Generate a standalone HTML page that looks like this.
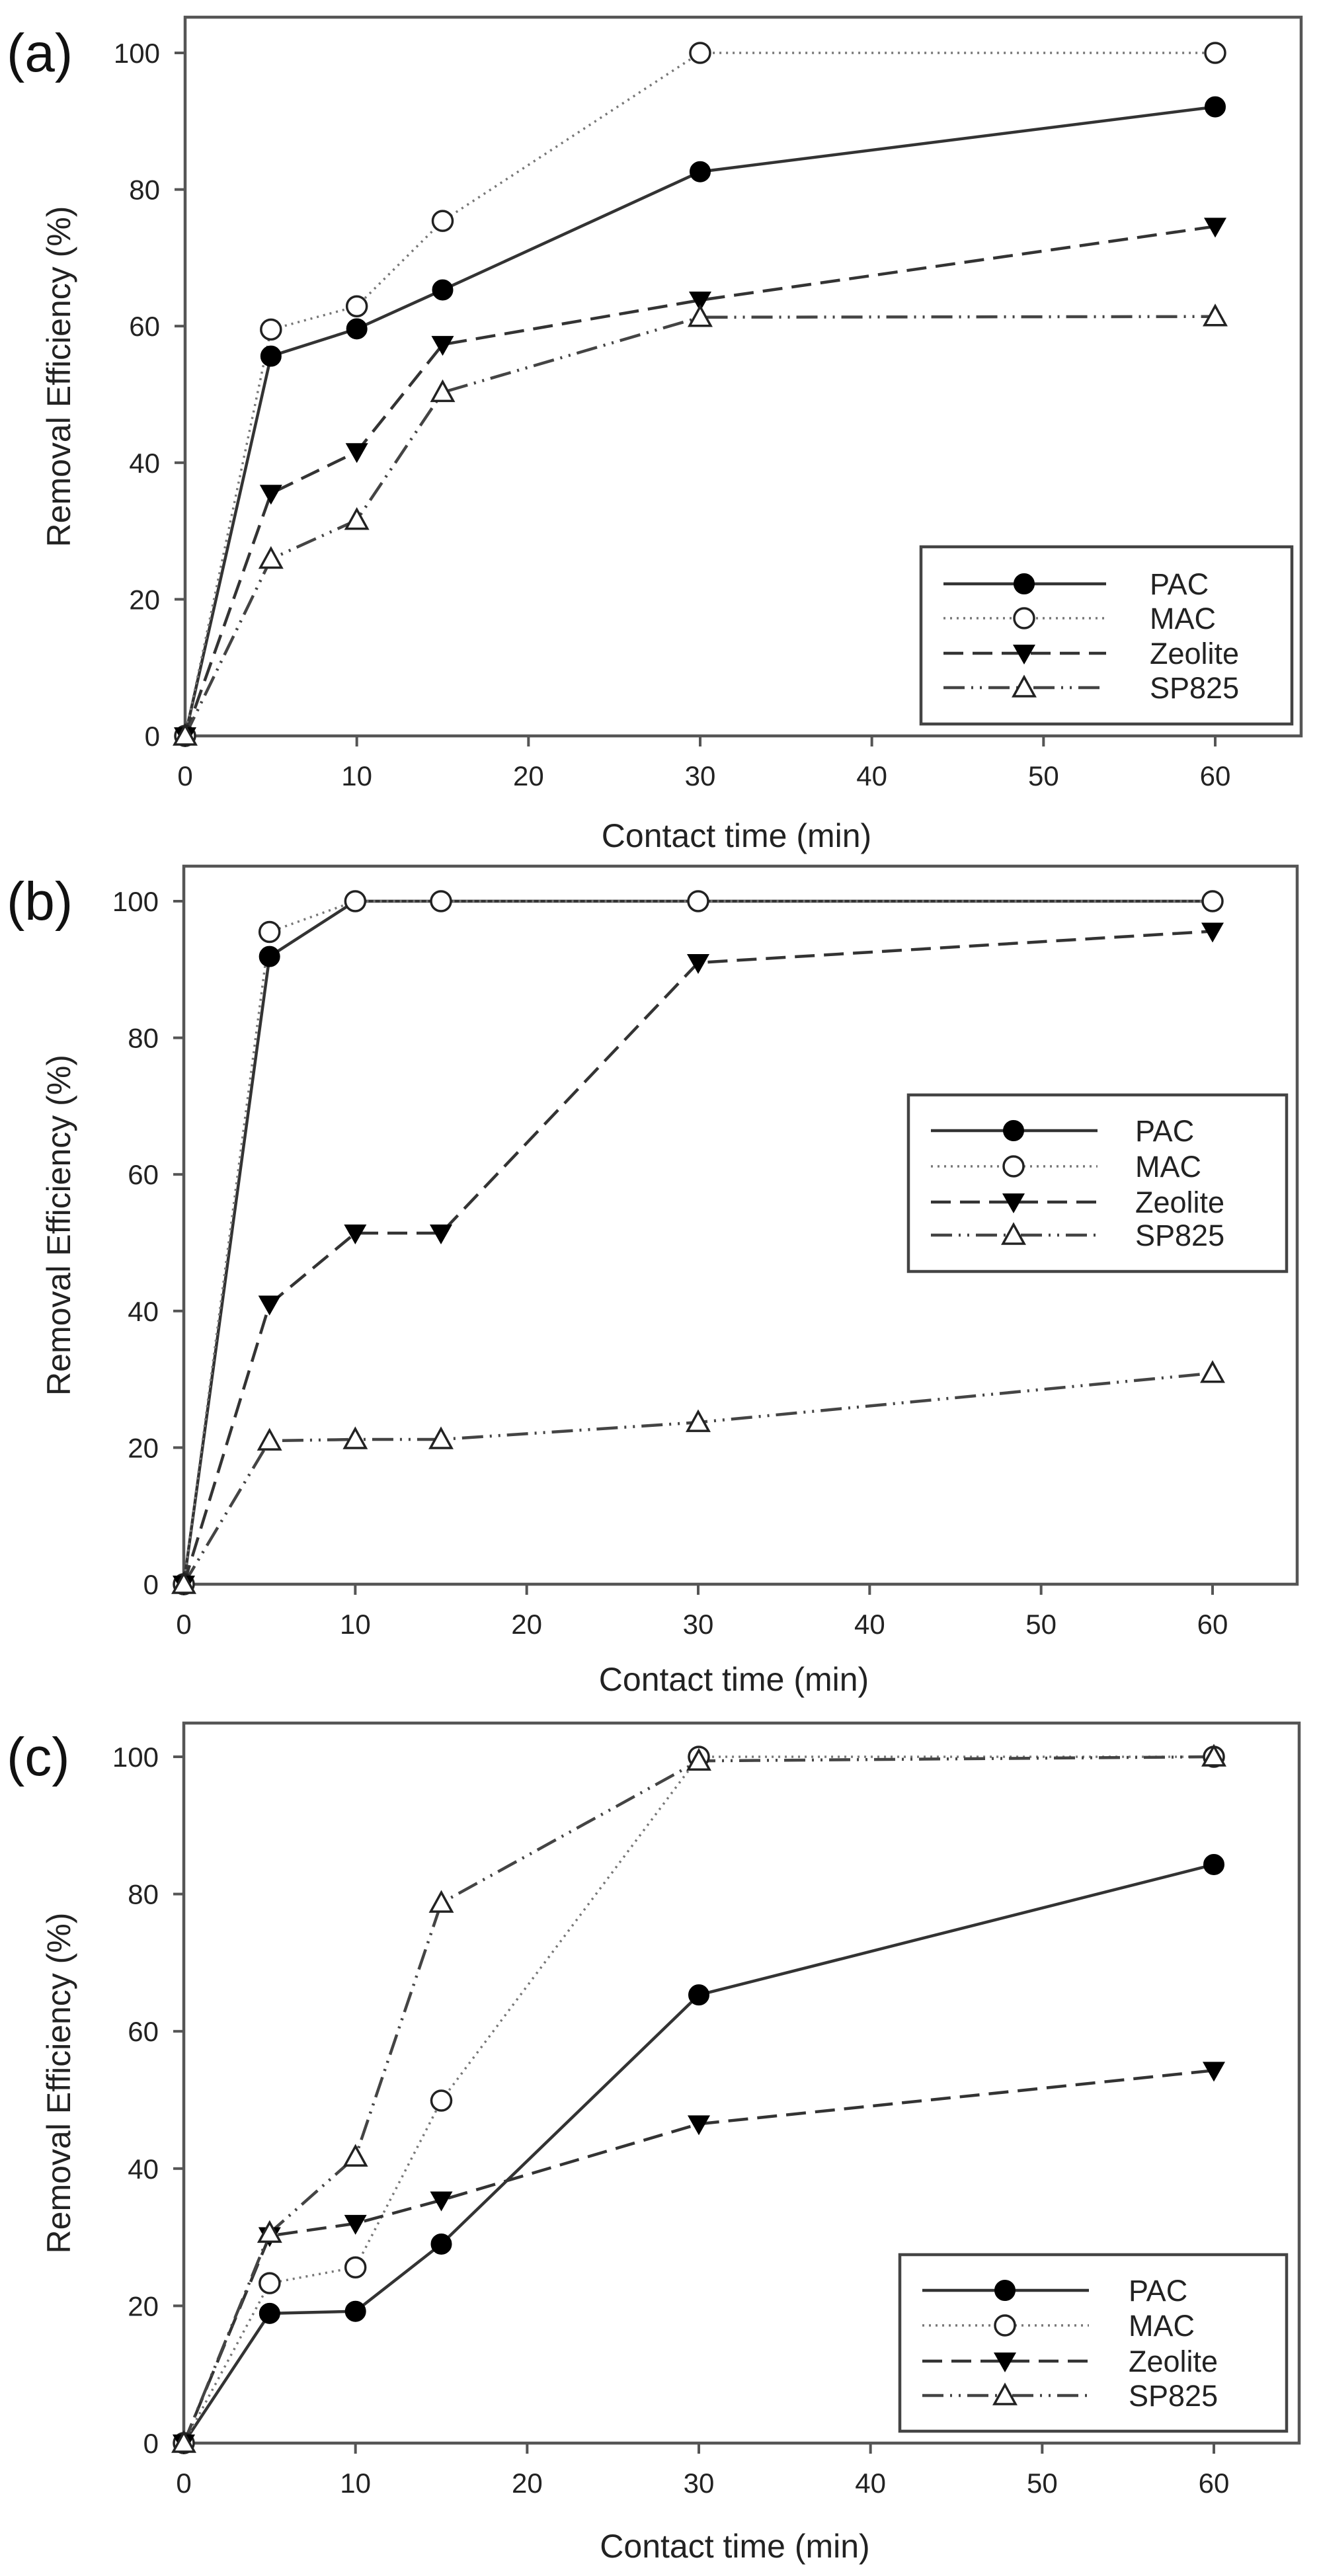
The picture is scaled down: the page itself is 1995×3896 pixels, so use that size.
<!DOCTYPE html>
<html><head><meta charset="utf-8"><style>
html,body{margin:0;padding:0;background:#fff;}
svg{display:block;font-family:"Liberation Sans",Arial,sans-serif;}
</style></head><body>
<svg id="fig" width="1995" height="3896" viewBox="0 0 1995 3896" xmlns="http://www.w3.org/2000/svg"></svg>
<script>
const xValues = [0, 5, 10, 15, 30, 60];
const xTicks = [0, 10, 20, 30, 40, 50, 60];
const yTicks = [0, 20, 40, 60, 80, 100];
const seriesNames = ["PAC", "MAC", "Zeolite", "SP825"];
const panelLabels = ["(a)", "(b)", "(c)"];
const aPAC = [0, 55.6, 59.6, 65.3, 82.6, 92.1];
const aMAC = [0, 59.5, 62.9, 75.4, 100, 100];
const aZeolite = [0, 35.5, 41.6, 57.3, 63.8, 74.6];
const aSP825 = [0, 25.9, 31.6, 50.3, 61.3, 61.4];
const bPAC = [0, 91.9, 100, 100, 100, 100];
const bMAC = [0, 95.5, 100, 100, 100, 100];
const bZeolite = [0, 41.0, 51.4, 51.4, 91.0, 95.6];
const bSP825 = [0, 21.0, 21.2, 21.2, 23.7, 30.9];
const cPAC = [0, 18.9, 19.2, 29.0, 65.3, 84.3];
const cMAC = [0, 23.3, 25.6, 49.9, 100, 100];
const cZeolite = [0, 30.2, 32.0, 35.4, 46.5, 54.3];
const cSP825 = [0, 30.6, 41.7, 78.7, 99.4, 100];

const NS = "http://www.w3.org/2000/svg";
const svg = document.getElementById("fig");
function mk(tag, attrs, parent){const e=document.createElementNS(NS,tag);for(const k in attrs)e.setAttribute(k,attrs[k]);(parent||svg).appendChild(e);return e;}

const panels = [
 {data:[aPAC,aMAC,aZeolite,aSP825], left:280, right:1968, top:26, x0:280, x60:1838, y0:1113, y100:80, xlab:1263,
  leg:{l:1393,t:827,r:1954,b:1095,rows:[883,935,988,1040],l1:1427,l2:1673,m:1549,tx:1739}},
 {data:[bPAC,bMAC,bZeolite,bSP825], left:278, right:1962, top:1310, x0:278, x60:1834, y0:2396, y100:1363, xlab:2539,
  leg:{l:1374,t:1656,r:1946,b:1923,rows:[1710,1764,1818,1868],l1:1408,l2:1660,m:1533,tx:1717}},
 {data:[cPAC,cMAC,cZeolite,cSP825], left:278, right:1965, top:2606, x0:278, x60:1836, y0:3695, y100:2657, xlab:3850,
  leg:{l:1361,t:3410,r:1946,b:3677,rows:[3464,3517,3571,3623],l1:1395,l2:1647,m:1520,tx:1707}}
];
const styles = [
 {dash:"", stroke:"#333", w:4.5},
 {dash:"3 7", stroke:"#777", w:3.5},
 {dash:"30 14", stroke:"#333", w:4.5},
 {dash:"32 10 3 10 3 10", stroke:"#444", w:4.5}
];
function marker(i, cx, cy, g){
  let m;
  if(i===0) m=mk("circle",{cx:cx,cy:cy,r:15,fill:"#000",stroke:"#000","stroke-width":2},g);
  else if(i===1) m=mk("circle",{cx:cx,cy:cy,r:15,fill:"#fff",stroke:"#222","stroke-width":3.5},g);
  else if(i===2) m=mk("polygon",{points:`${cx-17},${cy-13} ${cx+17},${cy-13} ${cx},${cy+17}`,fill:"#000"},g);
  else m=mk("polygon",{points:`${cx-16},${cy+13} ${cx+16},${cy+13} ${cx},${cy-16}`,fill:"#fff",stroke:"#222","stroke-width":3.5},g);
  return m;
}
panels.forEach((p, pi)=>{
  const xs = v => p.x0 + (p.x60 - p.x0) * v / 60;
  const ys = v => p.y0 + (p.y100 - p.y0) * v / 100;
  const g = mk("g",{});
  
  
  const frame = mk("rect",{x:p.left,y:p.top,width:p.right-p.left,height:p.y0-p.top,fill:"none",stroke:"#555","stroke-width":4.5},g);
  
  
  yTicks.forEach(t=>{
    const y=ys(t);
    const tk=mk("line",{x1:p.left-16,x2:p.left,y1:y,y2:y,stroke:"#555","stroke-width":4},g);
    
    
    const tl=mk("text",{x:p.left-38,y:y+15,"text-anchor":"end","font-size":42,fill:"#222"},g);
    tl.textContent=t;
    
    
  });
  xTicks.forEach(t=>{
    const x=xs(t);
    const tk=mk("line",{x1:x,x2:x,y1:p.y0,y2:p.y0+16,stroke:"#555","stroke-width":4},g);
    
    
    const tl=mk("text",{x:x,y:p.y0+75,"text-anchor":"middle","font-size":42,fill:"#222"},g);
    tl.textContent=t;
    
    
  });
  const yl=mk("text",{x:0,y:0,"text-anchor":"middle","font-size":50,fill:"#222",transform:`translate(106,${(p.top+p.y0)/2}) rotate(-90)`},g);
  yl.textContent="Removal Efficiency (%)";
  
  
  const xl=mk("text",{x:(p.left+p.right)/2-10,y:p.xlab+18,"text-anchor":"middle","font-size":50,fill:"#222"},g);
  xl.textContent="Contact time (min)";
  
  
  const pl=mk("text",{x:10,y:p.y100+28,"font-size":82,fill:"#111"},g);
  pl.textContent=panelLabels[pi];
  
  
  p.data.forEach((vals, si)=>{
    const st=styles[si];
    const pts=xValues.map((x,k)=>xs(x)+","+ys(vals[k])).join(" ");
    const line=mk("polyline",{points:pts,fill:"none",stroke:st.stroke,"stroke-width":st.w,"stroke-dasharray":st.dash},g);
    
    
  });
  p.data.forEach((vals, si)=>{
    xValues.forEach((x,k)=>{
      const m=marker(si, xs(x), ys(vals[k]), g);
      
      
    });
  });
  const L=p.leg;
  const lg=mk("g",{},g);
  
  
  const lb=mk("rect",{x:L.l,y:L.t,width:L.r-L.l,height:L.b-L.t,fill:"#fff",stroke:"#444","stroke-width":4.5},lg);
  
  
  seriesNames.forEach((n,si)=>{
    const st=styles[si], y=L.rows[si];
    const eg=mk("g",{},lg);
    
    
    mk("line",{x1:L.l1,x2:L.l2,y1:y,y2:y,stroke:st.stroke,"stroke-width":st.w,"stroke-dasharray":st.dash},eg);
    marker(si,L.m,y,eg);
    const t=mk("text",{x:L.tx,y:y+16,"font-size":45,fill:"#222"},eg);
    t.textContent=n;
  });
});
</script>
</body></html>
